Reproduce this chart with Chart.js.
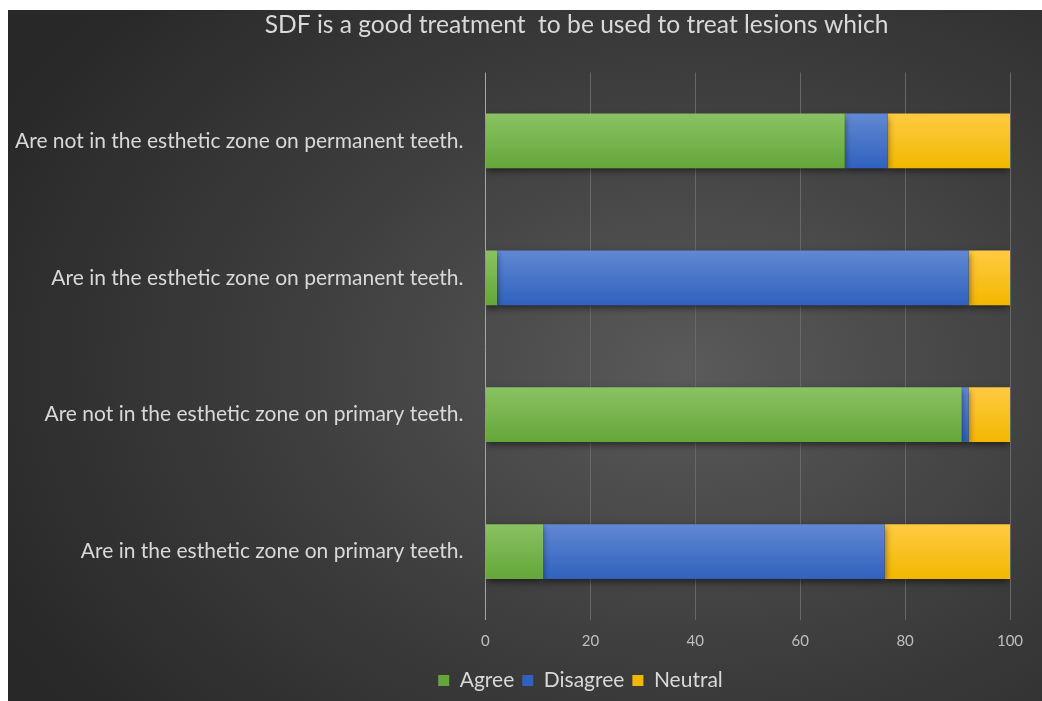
<!DOCTYPE html>
<html>
<head>
<meta charset="utf-8">
<script src="https://cdn.jsdelivr.net/npm/chart.js@4.4.0/dist/chart.umd.min.js"></script>
<style>
  html, body { margin: 0; padding: 0; background: #fff; }
  #wrap {
    position: absolute; left: 8px; top: 10px; width: 1034px; height: 691px;
    background: radial-gradient(ellipse 75% 80% at 66% 52%, #5a5a5a 0%, #3c3c3c 55%, #282828 100%);
  }
</style>
</head>
<body>
<div id="wrap"><canvas id="chart"></canvas></div>
<script>
const categories = [
  'Are not in the esthetic zone on permanent teeth.',
  'Are in the esthetic zone on permanent teeth.',
  'Are not in the esthetic zone on primary teeth.',
  'Are in the esthetic zone on primary teeth.'
];
const agree    = [68.5, 2.2, 90.8, 11.0];
const disagree = [8.2, 89.9, 1.3, 65.1];
const neutral  = [23.3, 7.9, 7.9, 23.9];
const xTicks   = [0, 20, 40, 60, 80, 100];

const textColor = '#d9d9d9';
const fontFamily = 'Lato, "Open Sans", sans-serif';

// vertical gradient per bar, lighter at the top edge
function barFill(top, bottom) {
  return (ctx) => {
    const chart = ctx.chart;
    const y = chart.scales.y;
    if (!chart.chartArea || ctx.dataIndex === undefined || !y) return bottom;
    const yc = y.getPixelForValue(ctx.dataIndex);
    const half = Math.abs(y.getPixelForValue(1) - y.getPixelForValue(0)) * 0.2;
    const g = chart.ctx.createLinearGradient(0, yc - half, 0, yc + half);
    g.addColorStop(0, top);
    g.addColorStop(1, bottom);
    return g;
  };
}

const barShadow = {
  id: 'barShadow',
  beforeDatasetsDraw(chart) {
    const c = chart.ctx;
    c.save();
    c.shadowColor = 'rgba(0,0,0,0.55)';
    c.shadowBlur = 7;
    c.shadowOffsetY = 3;
  },
  afterDatasetsDraw(chart) {
    chart.ctx.restore();
  }
};

// title and legend sit a bit right of the canvas centre
const shiftBlocks = {
  id: 'shiftBlocks',
  afterLayout(chart) {
    if (chart.titleBlock) { chart.titleBlock.left += 75; chart.titleBlock.right += 75; }
    if (chart.legend) { chart.legend.left += 79; chart.legend.right += 79; }
  }
};

new Chart(document.getElementById('chart'), {
  type: 'bar',
  data: {
    labels: categories,
    datasets: [
      { label: 'Agree', data: agree, backgroundColor: barFill('#8ac262', '#64a63a') },
      { label: 'Disagree', data: disagree, backgroundColor: barFill('#6188d2', '#2f62bf') },
      { label: 'Neutral', data: neutral, backgroundColor: barFill('#ffca42', '#f2b800') }
    ]
  },
  options: {
    indexAxis: 'y',
    responsive: true,
    maintainAspectRatio: false,
    animation: false,
    barPercentage: 0.4,
    categoryPercentage: 1,
    layout: { padding: { left: -15, right: 32, top: 0, bottom: 0 } },
    scales: {
      x: {
        stacked: true,
        min: 0,
        max: 100,
        afterBuildTicks: (axis) => { axis.ticks = xTicks.map((v) => ({ value: v })); },
        grid: {
          color: (c) => (c.tick && c.tick.value === 0 ? '#a6a6a6' : '#686868'),
          lineWidth: 1,
          drawTicks: false
        },
        border: { display: false },
        ticks: { color: '#bfbfbf', padding: 12, font: { family: fontFamily, size: 15 } }
      },
      y: {
        stacked: true,
        grid: { display: false, drawTicks: false },
        border: { display: false },
        ticks: { color: textColor, padding: 22, font: { family: fontFamily, size: 21 } }
      }
    },
    plugins: {
      title: {
        display: true,
        text: 'SDF is a good treatment  to be used to treat lesions which',
        color: textColor,
        font: { family: fontFamily, size: 24.6, weight: 'normal' },
        padding: { top: 0, bottom: 33 }
      },
      legend: {
        position: 'bottom',
        labels: {
          color: textColor,
          boxWidth: 11,
          boxHeight: 11,
          padding: 8,
          font: { family: fontFamily, size: 21 }
        }
      },
      tooltip: { enabled: false }
    }
  },
  plugins: [barShadow, shiftBlocks]
});
</script>
</body>
</html>
